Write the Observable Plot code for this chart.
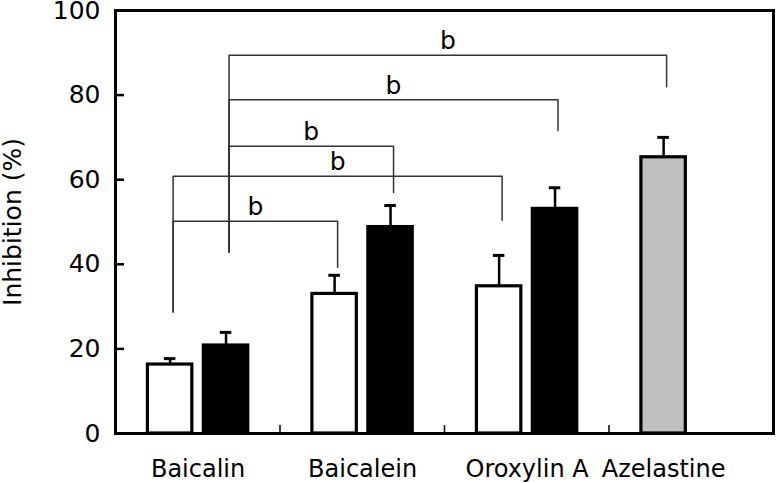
<!DOCTYPE html>
<html>
<head>
<meta charset="utf-8">
<script src="https://cdn.jsdelivr.net/npm/d3@7"></script>
<script src="https://cdn.jsdelivr.net/npm/@observablehq/plot@0.6"></script>
<style>
  html, body { margin: 0; padding: 0; background: white; }
</style>
</head>
<body>
<div id="chart"></div>
<script>
// ---- data ----
const groups = ["Baicalin", "Baicalein", "Oroxylin A", "Azelastine"];
const barGroup = ["Baicalin", "Baicalin", "Baicalein", "Baicalein", "Oroxylin A", "Oroxylin A", "Azelastine"];
const barSeries = ["open", "filled", "open", "filled", "open", "filled", "reference"];
const barValue = [16.3, 20.8, 33.0, 48.8, 34.8, 53.1, 65.3];
const barError = [1.4, 3.1, 4.4, 5.1, 7.3, 5.0, 4.7];
const seriesNames = ["open", "filled", "reference"];
const seriesFill = ["white", "black", "#c0c0c0"];
const yTicks = [0, 20, 40, 60, 80, 100];
// significance brackets (bar indices, levels in %)
const bracketFrom = [0, 0, 1, 1, 1];
const bracketTo = [2, 4, 3, 5, 6];
const bracketLevel = [50.2, 60.8, 67.9, 78.9, 89.4];
const bracketFromEnd = [28.7, 28.7, 42.9, 42.9, 42.9];
const bracketToEnd = [39.3, 50.4, 57.0, 71.6, 82.0];
const bracketLabel = ["b", "b", "b", "b", "b"];

// ---- layout helpers ----
const slotStart = {open: 0.197, filled: 0.537, reference: 0.197};
const barWidth = 0.27;
const bars = barValue.map((v, i) => {
  const gi = groups.indexOf(barGroup[i]);
  const x1 = gi + slotStart[barSeries[i]];
  return {group: barGroup[i], series: barSeries[i], value: v, err: barError[i],
          x1, x2: x1 + barWidth, cx: x1 + barWidth / 2};
});
const labelPos = groups.map(g => d3.mean(bars.filter(b => b.group === g), b => b.cx));
const labelMap = new Map(labelPos.map((p, i) => [p, groups[i]]));

const bracketPts = [];
const bracketMid = [];
bracketFrom.forEach((f, i) => {
  const xa = bars[f].cx, xb = bars[bracketTo[i]].cx;
  bracketPts.push({id: i, x: xa, y: bracketFromEnd[i]});
  bracketPts.push({id: i, x: xa, y: bracketLevel[i]});
  bracketPts.push({id: i, x: xb, y: bracketLevel[i]});
  bracketPts.push({id: i, x: xb, y: bracketToEnd[i]});
  bracketMid.push({x: (xa + xb) / 2, y: bracketLevel[i], text: bracketLabel[i]});
});

const capHalf = 0.035;
const font = "DejaVu Sans";

const chart = Plot.plot({
  width: 777,
  height: 483,
  marginLeft: 115,
  marginRight: 4,
  marginTop: 10,
  marginBottom: 50,
  style: {fontFamily: font, fontSize: "24px", color: "black", background: "white"},
  x: {domain: [0, 4]},
  y: {domain: [0, 100]},
  color: {domain: seriesNames, range: seriesFill},
  marks: [
    Plot.rect(bars, {x1: "x1", x2: "x2", y1: () => 0, y2: "value", fill: "series", stroke: "black", strokeWidth: 3.2}),
    Plot.ruleX(bars, {x: "cx", y1: "value", y2: d => d.value + d.err, stroke: "black", strokeWidth: 2.5}),
    Plot.ruleY(bars, {y: d => d.value + d.err, x1: d => d.cx - capHalf, x2: d => d.cx + capHalf, stroke: "black", strokeWidth: 3}),
    Plot.line(bracketPts, {x: "x", y: "y", z: "id", stroke: "#333", strokeWidth: 1.5, dx: 3}),
    Plot.text(bracketMid, {x: "x", y: "y", text: "text", dx: 3, dy: -6, lineAnchor: "bottom", fontSize: 25, fill: "black"}),
    Plot.frame({stroke: "black", strokeWidth: 3}),
    Plot.axisY({ticks: yTicks, tickSize: -9, tickPadding: 24, strokeWidth: 2.5, fontSize: 25,
      label: "Inhibition (%)", labelAnchor: "center", labelArrow: "none", labelOffset: 112}),
    Plot.axisX([1, 2, 3], {tickSize: -8, strokeWidth: 1.5, tickFormat: () => "", label: null}),
    Plot.axisX(labelPos, {tickSize: 0, tickPadding: 26, fontSize: 24, tickFormat: d => labelMap.get(d), label: null})
  ]
});
document.getElementById("chart").appendChild(chart);
</script>
</body>
</html>
